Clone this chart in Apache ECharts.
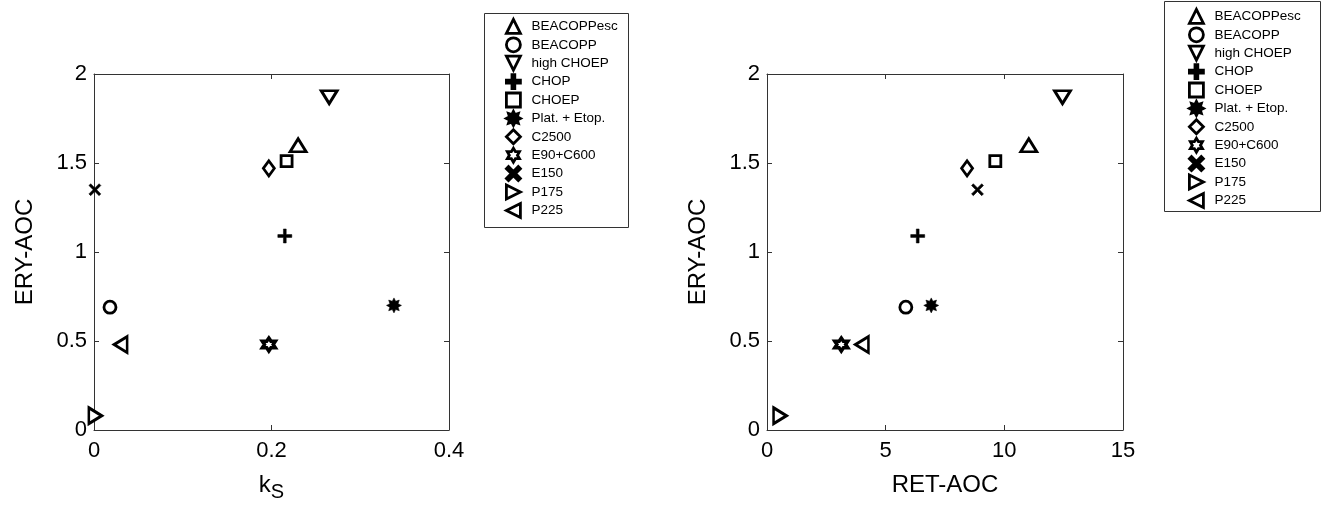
<!DOCTYPE html>
<html>
<head>
<meta charset="utf-8">
<script src="https://cdn.jsdelivr.net/npm/echarts@6/dist/echarts.min.js"></script>
<style>
html,body{margin:0;padding:0;background:#fff}
#main{width:1321px;height:512px}
</style>
</head>
<body>
<div id="main"></div>
<script>
// regimens and values
const names = ['BEACOPPesc','BEACOPP','high CHOEP','CHOP','CHOEP','Plat. + Etop.','C2500','E90+C600','E150','P175','P225'];
const ksValues = [0.23, 0.018, 0.265, 0.215, 0.217, 0.338, 0.197, 0.197, 0.001, 0.0015, 0.03];
const retAocValues = [11.03, 5.85, 12.45, 6.35, 9.62, 6.92, 8.43, 3.13, 8.87, 0.55, 4.0];
const eryAocValues = [1.6, 0.69, 1.87, 1.09, 1.51, 0.7, 1.47, 0.48, 1.35, 0.08, 0.48];

const FONT = 'Liberation Sans, Arial, sans-serif';
const TRI_UP = 'path://M50,0L100,100L0,100Z';
const TRI_DOWN = 'path://M0,0L100,0L50,100Z';
const TRI_RIGHT = 'path://M0,0L100,50L0,100Z';
const TRI_LEFT = 'path://M100,0L0,50L100,100Z';
const PLUS = 'path://M40,0H60V40H100V60H60V100H40V60H0V40H40Z';
const CROSS = 'path://M0,15L15,0L50,35L85,0L100,15L65,50L100,85L85,100L50,65L15,100L0,85L35,50Z';
const AST = 'path://M100,50L77.7,61.5L85.4,85.4L61.5,77.7L50,100L38.5,77.7L14.6,85.4L22.3,61.5L0,50L22.3,38.5L14.6,14.6L38.5,22.3L50,0L61.5,22.3L85.4,14.6L77.7,38.5Z';
const HEX = 'path://M50,0L64.5,24.9L93.3,25L79,50L93.3,75L64.5,75.1L50,100L35.5,75.1L6.7,75L21,50L6.7,25L35.5,24.9Z';

// matlab-ish markers, one per regimen
const markers = [
  {symbol:TRI_UP, size:[16,13], fill:false},
  {symbol:'circle', size:12, fill:false},
  {symbol:TRI_DOWN, size:[16,13], fill:false},
  {symbol:PLUS, size:14, fill:true},
  {symbol:'rect', size:11, fill:false},
  {symbol:AST, size:15, fill:true},
  {symbol:'diamond', size:[11,15], fill:false},
  {symbol:HEX, size:13, fill:false},
  {symbol:CROSS, size:12, fill:true},
  {symbol:TRI_RIGHT, size:[13,16], fill:false},
  {symbol:TRI_LEFT, size:[13,16], fill:false}
];

function boxAxis(gridIndex, min, max, interval, position, extra){
  return Object.assign({
    gridIndex: gridIndex,
    type: 'value',
    min: min, max: max, interval: interval,
    position: position,
    splitLine: {show:false},
    axisLine: {show:true, onZero:false, lineStyle:{color:'#333', width:1}},
    axisTick: {show:true, inside:true, length:5, lineStyle:{color:'#333'}},
    axisLabel: {show:false}
  }, extra || {});
}

const tickLabel = {show:true, color:'#000', fontSize:22, fontFamily:FONT};

let series = [];
[ksValues, retAocValues].forEach(function(xs, g){
  names.forEach(function(n, i){
    let m = markers[i];
    series.push({
      name: n,
      type: 'scatter',
      xAxisIndex: g*2,
      yAxisIndex: g*2,
      symbol: m.symbol,
      symbolSize: m.size,
      itemStyle: {
        color: m.fill ? '#000' : '#fff',
        borderColor: '#000',
        borderWidth: m.fill ? 0.5 : (i == 7 ? 3.5 : 2.8),
        opacity: 1
      },
      data: [[xs[i], eryAocValues[i]]]
    });
  });
});

function legendAt(left, top){
  return {
    orient: 'vertical',
    left: left, top: top,
    padding: 0,
    itemWidth: 14, itemHeight: 14,
    itemGap: 1.6,
    selectedMode: false,
    itemStyle: {borderWidth: 2.8},
    textStyle: {fontSize:13.5, lineHeight:14, color:'#000', fontFamily:FONT, padding:[0,0,0,6]},
    data: names
  };
}

let myChart = echarts.init(document.getElementById('main'), null, {renderer:'canvas'});
let option = {
  animation: false,
  backgroundColor: '#fff',
  graphic: [
    {type:'rect', z:0, shape:{x:484.5, y:13.5, width:144, height:214}, style:{fill:'#fff', stroke:'#333', lineWidth:1}},
    {type:'rect', z:0, shape:{x:1164.5, y:1.5, width:156, height:210}, style:{fill:'#fff', stroke:'#333', lineWidth:1}}
  ],
  legend: [legendAt(505, 18), legendAt(1188, 8)],
  grid: [
    {left:94, top:74, width:355, height:356, containLabel:false},
    {left:767, top:74, width:356, height:356, containLabel:false}
  ],
  xAxis: [
    boxAxis(0, 0, 0.4, 0.2, 'bottom', {
      axisLabel: Object.assign({margin:10}, tickLabel),
      name: '{k|k}{s|S}',
      nameLocation: 'middle',
      nameGap: 40,
      nameTextStyle: {color:'#000', fontFamily:FONT, rich:{
        k:{fontSize:24, fontFamily:FONT, color:'#000', lineHeight:30, verticalAlign:'top'},
        s:{fontSize:20, fontFamily:FONT, color:'#000', lineHeight:30, verticalAlign:'bottom', padding:[16,0,0,0]}
      }}
    }),
    boxAxis(0, 0, 0.4, 0.2, 'top'),
    boxAxis(1, 0, 15, 5, 'bottom', {
      axisLabel: Object.assign({margin:10}, tickLabel),
      name: 'RET-AOC',
      nameLocation: 'middle',
      nameGap: 43,
      nameTextStyle: {color:'#000', fontSize:24, fontFamily:FONT}
    }),
    boxAxis(1, 0, 15, 5, 'top')
  ],
  yAxis: [
    boxAxis(0, 0, 2, 0.5, 'left', {
      axisLabel: Object.assign({margin:7}, tickLabel),
      name: 'ERY-AOC',
      nameLocation: 'middle',
      nameGap: 57,
      nameTextStyle: {color:'#000', fontSize:24, fontFamily:FONT}
    }),
    boxAxis(0, 0, 2, 0.5, 'right'),
    boxAxis(1, 0, 2, 0.5, 'left', {
      axisLabel: Object.assign({margin:7}, tickLabel),
      name: 'ERY-AOC',
      nameLocation: 'middle',
      nameGap: 57,
      nameTextStyle: {color:'#000', fontSize:24, fontFamily:FONT}
    }),
    boxAxis(1, 0, 2, 0.5, 'right')
  ],
  series: series
};
myChart.setOption(option);
</script>
</body>
</html>
